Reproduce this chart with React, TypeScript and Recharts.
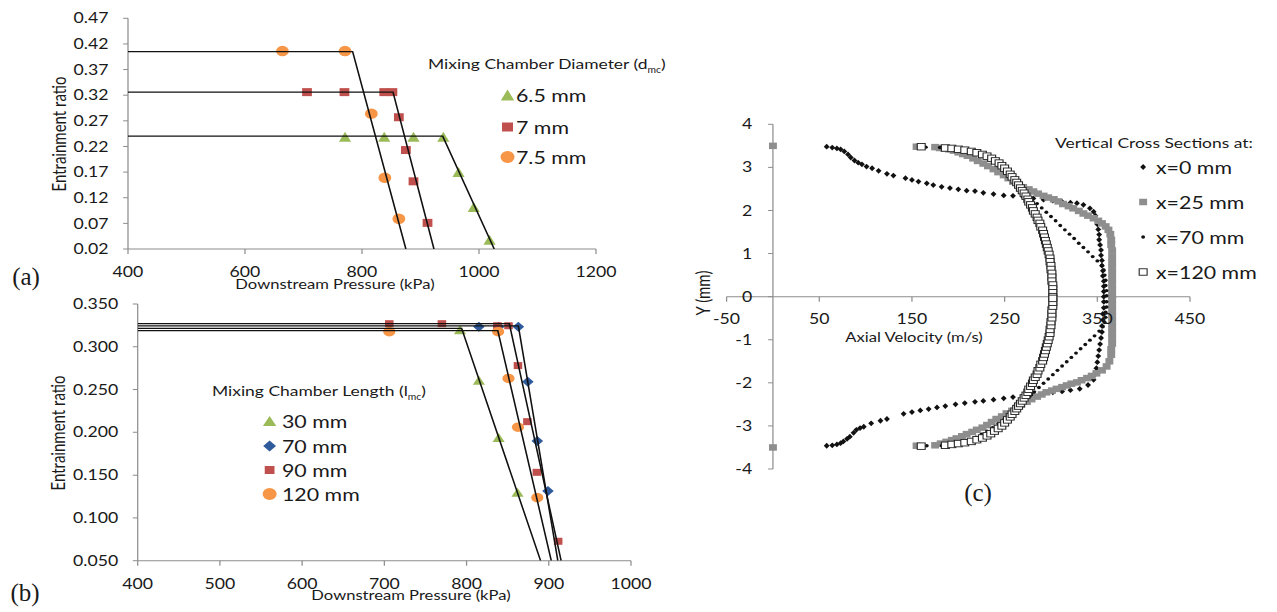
import React, { FC, ReactNode } from "react";
import { ReferenceLine, Scatter, ScatterChart, XAxis, YAxis } from "recharts";

type Pt = [number, number];
type MarkerKind = "triangle" | "square" | "circle" | "diamond" | "dot" | "openSquare";

// the source figure was pasted stretched sideways, so the charts are drawn narrow and scaled
const STRETCH = 1.22;
const sx = (px: number) => px / STRETCH;

const FONT = "Lato, 'Open Sans', sans-serif";
const SERIF = "'Liberation Serif', 'Times New Roman', serif";
const AXIS = "#8c8c8c";
const TEXT = "#1a1a1a";
const GREEN = "#9bbb59";
const RED = "#c0504d";
const ORANGE = "#f79646";
const BLUE = "#2f5b9c";
const GREY = "#8e8e8e";
const DARK = "#111";

// (a) mixing chamber diameter
const aPressureTicks = [400, 600, 800, 1000, 1200];
const aRatioTicks = [0.02, 0.07, 0.12, 0.17, 0.22, 0.27, 0.32, 0.37, 0.42, 0.47];
const aDiameter65: Pt[] = [[771, 0.239], [838, 0.239], [888, 0.239], [939, 0.239], [965, 0.17], [991, 0.102], [1018, 0.038]];
const aDiameter7: Pt[] = [[706, 0.326], [770, 0.326], [838, 0.326], [852, 0.326], [863, 0.277], [875, 0.213], [888, 0.152], [912, 0.071]];
const aDiameter75: Pt[] = [[664, 0.406], [771, 0.406], [816, 0.284], [839, 0.159], [863, 0.079]];
const aFit65: Pt[] = [[400, 0.24], [938, 0.24], [1026, 0.02]];
const aFit7: Pt[] = [[400, 0.326], [853, 0.326], [923, 0.02]];
const aFit75: Pt[] = [[400, 0.405], [784, 0.405], [875, 0.02]];

// (b) mixing chamber length
const bPressureTicks = [400, 500, 600, 700, 800, 900, 1000];
const bRatioTicks = [0.05, 0.1, 0.15, 0.2, 0.25, 0.3, 0.35];
const bLength30: Pt[] = [[792, 0.32], [815, 0.261], [839, 0.194], [862, 0.13]];
const bLength70: Pt[] = [[815, 0.3235], [839, 0.3235], [863, 0.3235], [874.5, 0.259], [886, 0.19], [899, 0.1315]];
const bLength90: Pt[] = [[706, 0.327], [770, 0.327], [837.5, 0.3246], [851, 0.3246], [862.5, 0.278], [874, 0.2125], [885.5, 0.1533], [911.4, 0.0727]];
const bLength120: Pt[] = [[706, 0.3177], [838.4, 0.3177], [851, 0.263], [862.5, 0.206], [886, 0.1237]];
const bFit30: Pt[] = [[400, 0.3215], [794, 0.3215], [890, 0.05]];
const bFit70: Pt[] = [[400, 0.3245], [863, 0.3245], [911, 0.05]];
const bFit90: Pt[] = [[400, 0.327], [852, 0.327], [915, 0.05]];
const bFit120: Pt[] = [[400, 0.319], [838, 0.319], [903, 0.05]];

// (c) axial velocity profiles, [velocity m/s, Y mm]
const cVelocityTicks = [-50, 50, 150, 250, 350, 450];
const cYTicks = [-4, -3, -2, -1, 0, 1, 2, 3, 4];
const cX0Upper: Pt[] = [[0, 3.5], [58, 3.48], [64, 3.46], [69, 3.44], [73, 3.42], [77, 3.37], [81, 3.3], [84, 3.23], [88, 3.16], [92, 3.11], [96, 3.07], [101, 3.02], [107, 2.98], [114, 2.92], [123, 2.85], [130, 2.81], [143, 2.75], [150, 2.71], [157, 2.67], [166, 2.63], [173, 2.59], [182, 2.55], [191, 2.52], [200, 2.49], [209, 2.46], [218, 2.45], [227, 2.41], [238, 2.38], [249, 2.35], [259, 2.34], [270, 2.31], [281, 2.28], [292, 2.25], [302, 2.23], [312, 2.2], [321, 2.18], [328, 2.17], [335, 2.13], [342, 2.05], [346, 1.97], [348, 1.88], [349, 1.78], [350, 1.68], [351, 1.56], [352, 1.44], [352, 1.32], [353, 1.2], [354, 1.08], [354, 0.96], [355, 0.84], [355, 0.72], [356, 0.6], [356, 0.48], [357, 0.36], [357, 0.24], [357, 0.12], [357, 0.0]];
const cX0Lower: Pt[] = [[0, -3.5], [58, -3.46], [64, -3.45], [69, -3.43], [73, -3.4], [76, -3.36], [80, -3.3], [83, -3.25], [87, -3.16], [90, -3.09], [94, -3.05], [98, -3.02], [106, -2.94], [116, -2.88], [123, -2.84], [141, -2.72], [150, -2.68], [159, -2.64], [168, -2.61], [177, -2.57], [186, -2.54], [197, -2.5], [207, -2.47], [218, -2.44], [227, -2.42], [238, -2.39], [249, -2.36], [259, -2.33], [270, -2.3], [281, -2.27], [292, -2.25], [302, -2.22], [312, -2.2], [321, -2.17], [331, -2.14], [340, -2.05], [346, -1.93], [348, -1.8], [349, -1.66], [350, -1.52], [351, -1.38], [352, -1.24], [353, -1.1], [354, -0.96], [355, -0.82], [355, -0.68], [356, -0.54], [356, -0.4], [357, -0.26], [357, -0.12]];
const cX25Upper: Pt[] = [[0, 3.5], [155, 3.48], [175, 3.47], [180, 3.45], [185, 3.44], [190, 3.42], [195, 3.39], [200, 3.35], [205, 3.31], [210, 3.27], [216, 3.21], [221, 3.15], [227, 3.09], [232, 3.03], [238, 2.96], [243, 2.89], [249, 2.82], [254, 2.75], [259, 2.67], [265, 2.6], [270, 2.54], [276, 2.49], [281, 2.44], [286, 2.39], [292, 2.34], [297, 2.3], [303, 2.26], [308, 2.21], [313, 2.15], [319, 2.1], [324, 2.05], [330, 1.99], [335, 1.93], [340, 1.88], [346, 1.82], [351, 1.76], [355, 1.7], [359, 1.63], [362, 1.55], [364, 1.45], [365, 1.32], [365, 1.2], [366, 1.07], [366, 0.93], [366, 0.8], [366, 0.67], [366, 0.54], [366, 0.41], [366, 0.28], [366, 0.15], [366, 0.02]];
const cX25Lower: Pt[] = [[0, -3.5], [155, -3.46], [175, -3.45], [181, -3.41], [187, -3.37], [193, -3.33], [198, -3.29], [204, -3.24], [209, -3.19], [215, -3.14], [220, -3.09], [226, -3.04], [231, -2.98], [236, -2.91], [241, -2.84], [247, -2.78], [252, -2.71], [258, -2.65], [263, -2.58], [268, -2.51], [274, -2.44], [279, -2.38], [285, -2.32], [290, -2.27], [295, -2.22], [301, -2.18], [306, -2.14], [312, -2.1], [317, -2.06], [322, -2.02], [328, -1.99], [333, -1.94], [339, -1.89], [344, -1.84], [349, -1.78], [355, -1.71], [360, -1.62], [363, -1.5], [365, -1.35], [365, -1.22], [366, -1.09], [366, -0.97], [366, -0.84], [366, -0.71], [366, -0.58], [366, -0.45], [366, -0.32], [366, -0.19], [366, -0.06]];
const cX70Upper: Pt[] = [[165, 3.47], [180, 3.46], [190, 3.44], [198, 3.42], [205, 3.4], [211, 3.37], [217, 3.34], [223, 3.29], [228, 3.24], [233, 3.18], [238, 3.11], [243, 3.03], [248, 2.94], [253, 2.85], [258, 2.76], [262, 2.66], [266, 2.56], [270, 2.47], [275, 2.37], [280, 2.27], [285, 2.16], [290, 2.06], [295, 1.96], [300, 1.86], [305, 1.76], [310, 1.65], [315, 1.55], [320, 1.45], [325, 1.35], [330, 1.24], [335, 1.14], [340, 1.04], [345, 0.93], [350, 0.83], [355, 0.73], [357, 0.62], [358, 0.5], [359, 0.38], [359, 0.26], [360, 0.14], [360, 0.02]];
const cX70Lower: Pt[] = [[166, -3.46], [182, -3.46], [191, -3.45], [200, -3.41], [207, -3.37], [213, -3.32], [219, -3.26], [225, -3.19], [231, -3.12], [237, -3.04], [243, -2.95], [249, -2.86], [254, -2.77], [259, -2.68], [263, -2.59], [267, -2.51], [272, -2.41], [277, -2.31], [282, -2.21], [287, -2.11], [292, -2.01], [297, -1.91], [302, -1.81], [307, -1.71], [312, -1.61], [317, -1.51], [322, -1.41], [327, -1.31], [332, -1.21], [337, -1.11], [342, -1.01], [347, -0.91], [352, -0.8], [356, -0.7], [358, -0.6], [359, -0.48], [359, -0.36], [360, -0.24], [360, -0.12]];
const cX120Upper: Pt[] = [[160, 3.48], [186, 3.45], [193, 3.44], [200, 3.42], [207, 3.4], [214, 3.37], [220, 3.34], [226, 3.3], [231, 3.26], [236, 3.21], [240, 3.15], [244, 3.1], [247, 3.04], [250, 2.98], [253, 2.91], [256, 2.84], [258, 2.78], [261, 2.71], [263, 2.65], [265, 2.59], [267, 2.52], [269, 2.46], [271, 2.4], [273, 2.33], [275, 2.26], [276, 2.2], [278, 2.13], [280, 2.06], [281, 1.99], [283, 1.92], [285, 1.84], [286, 1.77], [288, 1.7], [289, 1.62], [291, 1.54], [292, 1.46], [293, 1.38], [294, 1.3], [295, 1.22], [296, 1.14], [297, 1.06], [298, 0.98], [299, 0.89], [299, 0.81], [300, 0.72], [300, 0.63], [301, 0.54], [301, 0.45], [301, 0.36], [302, 0.27], [302, 0.18], [302, 0.09], [302, 0.0]];
const cX120Lower: Pt[] = [[160, -3.47], [186, -3.45], [193, -3.43], [200, -3.41], [207, -3.39], [214, -3.36], [220, -3.32], [226, -3.28], [231, -3.23], [235, -3.18], [239, -3.12], [243, -3.06], [247, -3.0], [250, -2.93], [253, -2.86], [256, -2.79], [258, -2.73], [261, -2.66], [263, -2.6], [265, -2.54], [267, -2.48], [269, -2.42], [271, -2.35], [273, -2.29], [275, -2.22], [276, -2.15], [278, -2.08], [280, -2.01], [281, -1.94], [283, -1.87], [285, -1.8], [286, -1.72], [288, -1.65], [289, -1.57], [291, -1.49], [292, -1.41], [293, -1.33], [294, -1.25], [295, -1.17], [296, -1.09], [297, -1.01], [298, -0.93], [299, -0.85], [299, -0.76], [300, -0.67], [300, -0.58], [301, -0.49], [301, -0.4], [301, -0.31], [302, -0.22], [302, -0.13], [302, -0.04]];

interface SeriesSpec {
  name: string;
  kind: MarkerKind;
  color: string;
  w: number;
  h: number;
  pts: Pt[];
}

const toXY = (pts: Pt[]) => pts.map(([x, y]) => ({ x, y }));

const Marker: FC<{ kind: MarkerKind; cx: number; cy: number; w: number; h: number; color: string }> = ({
  kind, cx, cy, w, h, color
}) => {
  const hw = w / 2;
  const hh = h / 2;
  switch (kind) {
    case "triangle":
      return <polygon points={`${cx},${cy - hh} ${cx + hw},${cy + hh} ${cx - hw},${cy + hh}`} fill={color} />;
    case "square":
      return <rect x={cx - hw} y={cy - hh} width={w} height={h} fill={color} />;
    case "diamond":
      return <polygon points={`${cx},${cy - hh} ${cx + hw},${cy} ${cx},${cy + hh} ${cx - hw},${cy}`} fill={color} />;
    case "openSquare":
      return <rect x={cx - hw} y={cy - hh} width={w} height={h} fill="#fff" stroke={color} strokeWidth={0.9} />;
    default:
      return <ellipse cx={cx} cy={cy} rx={hw} ry={hh} fill={color} />;
  }
};

const noMarker = () => <g />;

const renderSeries = (s: SeriesSpec) => (
  <Scatter
    key={s.name}
    name={s.name}
    data={toXY(s.pts)}
    isAnimationActive={false}
    shape={(p: any) => <Marker kind={s.kind} cx={p.cx} cy={p.cy} w={s.w} h={s.h} color={s.color} />}
  />
);

const renderFit = (pts: Pt[], i: number) => (
  <Scatter
    key={`fit-${i}`}
    data={toXY(pts)}
    isAnimationActive={false}
    line={{ stroke: DARK, strokeWidth: 1.3 }}
    shape={noMarker}
  />
);

const tickStyle = { fill: TEXT, fontSize: 14.5, fontFamily: FONT };

const PressureChart: FC<{
  width: number;
  height: number;
  margin: { top: number; right: number; bottom: number; left: number };
  xTicks: number[];
  yTicks: number[];
  yDigits: number;
  series: SeriesSpec[];
  fits: Pt[][];
}> = ({ width, height, margin, xTicks, yTicks, yDigits, series, fits }) => (
  <ScatterChart width={width} height={height} margin={margin}>
    <XAxis
      type="number"
      dataKey="x"
      domain={[xTicks[0], xTicks[xTicks.length - 1]]}
      ticks={xTicks}
      interval={0}
      allowDataOverflow
      height={30}
      stroke={AXIS}
      tickSize={5}
      tickMargin={13}
      tick={tickStyle}
    />
    <YAxis
      type="number"
      dataKey="y"
      domain={[yTicks[0], yTicks[yTicks.length - 1]]}
      ticks={yTicks}
      interval={0}
      allowDataOverflow
      width={60}
      stroke={AXIS}
      tickSize={4}
      tickMargin={12}
      tick={tickStyle}
      tickFormatter={(v: number) => v.toFixed(yDigits)}
    />
    {series.map(renderSeries)}
    {fits.map(renderFit)}
  </ScatterChart>
);

// page text helpers, positions are centres in the scaled frame
const Txt: FC<{ x: number; y: number; size: number; center?: boolean; rotate?: boolean; children: ReactNode }> = ({
  x, y, size, center, rotate, children
}) => (
  <div
    style={{
      position: "absolute",
      left: x,
      top: y,
      fontFamily: FONT,
      fontSize: size,
      lineHeight: `${Math.round(size * 1.2)}px`,
      color: TEXT,
      whiteSpace: "nowrap",
      transform: `translate(${center || rotate ? "-50%" : "0"}, -50%)${rotate ? " rotate(-90deg)" : ""}`
    }}
  >
    {children}
  </div>
);

const LegendBlock: FC<{
  title: ReactNode;
  titleX: number;
  titleY: number;
  markerX: number;
  textX: number;
  rows: number[];
  series: SeriesSpec[];
  legendSize?: (s: SeriesSpec) => [number, number];
}> = ({ title, titleX, titleY, markerX, textX, rows, series, legendSize }) => (
  <>
    <Txt x={titleX} y={titleY} size={14.3}>
      {title}
    </Txt>
    {series.map((s, i) => {
      const [w, h] = legendSize ? legendSize(s) : [s.w, s.h];
      return (
        <React.Fragment key={s.name}>
          <svg
            width={16}
            height={16}
            style={{ position: "absolute", left: markerX - 8, top: rows[i] - 8, overflow: "visible" }}
          >
            <Marker kind={s.kind} cx={8} cy={8} w={w} h={h} color={s.color} />
          </svg>
          <Txt x={textX} y={rows[i]} size={17.5}>
            {s.name}
          </Txt>
        </React.Fragment>
      );
    })}
  </>
);

const aSeries: SeriesSpec[] = [
  { name: "6.5 mm", kind: "triangle", color: GREEN, w: 10, h: 10, pts: aDiameter65 },
  { name: "7 mm", kind: "square", color: RED, w: 8, h: 8, pts: aDiameter7 },
  { name: "7.5 mm", kind: "circle", color: ORANGE, w: 10.5, h: 10.5, pts: aDiameter75 }
];

const bSeries: SeriesSpec[] = [
  { name: "30 mm", kind: "triangle", color: GREEN, w: 10, h: 9, pts: bLength30 },
  { name: "70 mm", kind: "diamond", color: BLUE, w: 9.5, h: 10, pts: bLength70 },
  { name: "90 mm", kind: "square", color: RED, w: 7, h: 7, pts: bLength90 },
  { name: "120 mm", kind: "circle", color: ORANGE, w: 10, h: 9.5, pts: bLength120 }
];

const cSeries: SeriesSpec[] = [
  { name: "x=0 mm", kind: "diamond", color: DARK, w: 4.8, h: 5.8, pts: [...cX0Upper, ...cX0Lower] },
  { name: "x=25 mm", kind: "square", color: GREY, w: 6.5, h: 6.5, pts: [...cX25Upper, ...cX25Lower] },
  { name: "x=70 mm", kind: "circle", color: DARK, w: 3.2, h: 3.4, pts: [...cX70Upper, ...cX70Lower] },
  { name: "x=120 mm", kind: "openSquare", color: "#222", w: 6.5, h: 6.5, pts: [...cX120Upper, ...cX120Lower] }
];

// chart (c) geometry in its own box
const C_W = 460;
const C_H = 520;
const C_PLOT_LEFT = sx(726.6) - 560;
const C_PLOT_RIGHT = sx(1190) - 560;
const C_PLOT_TOP = 124.3;
const C_PLOT_BOTTOM = 469;
const C_ZERO_X = C_PLOT_LEFT + ((C_PLOT_RIGHT - C_PLOT_LEFT) * (0 - cVelocityTicks[0])) / (cVelocityTicks[cVelocityTicks.length - 1] - cVelocityTicks[0]);
const C_ZERO_Y = C_PLOT_TOP + ((C_PLOT_BOTTOM - C_PLOT_TOP) * cYTicks[cYTicks.length - 1]) / (cYTicks[cYTicks.length - 1] - cYTicks[0]);

const VelocityTick = ({ x, payload }: any) => (
  <g>
    <line x1={x} x2={x} y1={C_ZERO_Y} y2={C_ZERO_Y + 5} stroke={AXIS} />
    <text x={x} y={C_ZERO_Y + 22} dy="0.35em" textAnchor="middle" {...tickStyle}>
      {payload.value}
    </text>
  </g>
);

const HeightTick = ({ y, payload }: any) => (
  <g>
    <line x1={C_ZERO_X - 4} x2={C_ZERO_X} y1={y} y2={y} stroke={AXIS} />
    <text x={C_ZERO_X - 17} y={y} dy="0.35em" textAnchor="end" {...tickStyle}>
      {payload.value}
    </text>
  </g>
);

const VelocityChart: FC = () => (
  <ScatterChart
    width={C_W}
    height={C_H}
    margin={{ top: C_PLOT_TOP, right: C_W - C_PLOT_RIGHT, bottom: C_H - C_PLOT_BOTTOM - 20, left: C_PLOT_LEFT - 20 }}
  >
    <XAxis
      type="number"
      dataKey="x"
      domain={[-50, 450]}
      ticks={cVelocityTicks}
      interval={0}
      allowDataOverflow
      height={20}
      axisLine={false}
      tickLine={false}
      tick={VelocityTick}
    />
    <YAxis
      type="number"
      dataKey="y"
      domain={[-4, 4]}
      ticks={cYTicks}
      interval={0}
      allowDataOverflow
      width={20}
      axisLine={false}
      tickLine={false}
      tick={HeightTick}
    />
    <ReferenceLine y={0} stroke={AXIS} />
    <ReferenceLine x={0} stroke={AXIS} />
    {cSeries.map(renderSeries)}
  </ScatterChart>
);

const boxStyle = (left: number, top: number): React.CSSProperties => ({ position: "absolute", left, top });

const App: FC = () => (
  <div style={{ position: "absolute", left: 0, top: 0, width: 1277, height: 612, background: "#fff", overflow: "hidden" }}>
    <div
      style={{
        position: "absolute",
        left: 0,
        top: 0,
        width: sx(1277),
        height: 612,
        transform: `scaleX(${STRETCH})`,
        transformOrigin: "0 0"
      }}
    >
      <div style={boxStyle(0, 0)}>
        <PressureChart
          width={560}
          height={300}
          margin={{ top: 18.3, right: 560 - sx(596), bottom: 21, left: sx(128) - 60 }}
          xTicks={aPressureTicks}
          yTicks={aRatioTicks}
          yDigits={2}
          series={aSeries}
          fits={[aFit65, aFit7, aFit75]}
        />
      </div>
      <div style={boxStyle(0, 280)}>
        <PressureChart
          width={560}
          height={320}
          margin={{ top: 24, right: 560 - sx(631), bottom: 320 - (560.7 - 280) - 30, left: sx(137.7) - 60 }}
          xTicks={bPressureTicks}
          yTicks={bRatioTicks}
          yDigits={3}
          series={bSeries}
          fits={[bFit30, bFit70, bFit90, bFit120]}
        />
      </div>
      <div style={boxStyle(560, 0)}>
        <VelocityChart />
      </div>

      <Txt x={sx(58)} y={133.6} size={15} rotate>
        Entrainment ratio
      </Txt>
      <Txt x={sx(335)} y={284} size={13.6} center>
        Downstream Pressure (kPa)
      </Txt>
      <Txt x={sx(57)} y={433} size={15} rotate>
        Entrainment ratio
      </Txt>
      <Txt x={sx(411)} y={595} size={13.6} center>
        Downstream Pressure (kPa)
      </Txt>
      <Txt x={sx(703)} y={293} size={15} rotate>
        Y (mm)
      </Txt>
      <Txt x={sx(914)} y={337} size={13.6} center>
        Axial Velocity (m/s)
      </Txt>

      <LegendBlock
        title={<>Mixing Chamber Diameter (d<sub style={{ fontSize: 8.5 }}>mc</sub>)</>}
        titleX={sx(428)}
        titleY={66.7}
        markerX={sx(508)}
        textX={sx(516)}
        rows={[95, 127, 157]}
        series={aSeries}
        legendSize={(s) => (s.kind === "circle" ? [11.5, 12] : [s.w + 1, s.h + 1])}
      />
      <LegendBlock
        title={<>Mixing Chamber Length (l<sub style={{ fontSize: 8.5 }}>mc</sub>)</>}
        titleX={sx(212)}
        titleY={394}
        markerX={sx(270)}
        textX={sx(282)}
        rows={[421, 445.7, 470, 494]}
        series={bSeries}
        legendSize={(s) => (s.kind === "circle" ? [11.5, 12] : [s.w + 1, s.h + 1])}
      />
      <LegendBlock
        title="Vertical Cross Sections at:"
        titleX={sx(1055)}
        titleY={142}
        markerX={sx(1143)}
        textX={sx(1156)}
        rows={[167, 202, 237, 272]}
        series={cSeries}
      />
    </div>

    {[
      { label: "(a)", x: 26, y: 277 },
      { label: "(b)", x: 25, y: 593 },
      { label: "(c)", x: 978, y: 493 }
    ].map((p) => (
      <div
        key={p.label}
        style={{
          position: "absolute",
          left: p.x,
          top: p.y,
          transform: "translate(-50%, -50%)",
          fontFamily: SERIF,
          fontSize: 25,
          lineHeight: "30px",
          color: TEXT
        }}
      >
        {p.label}
      </div>
    ))}
  </div>
);

export default App;
